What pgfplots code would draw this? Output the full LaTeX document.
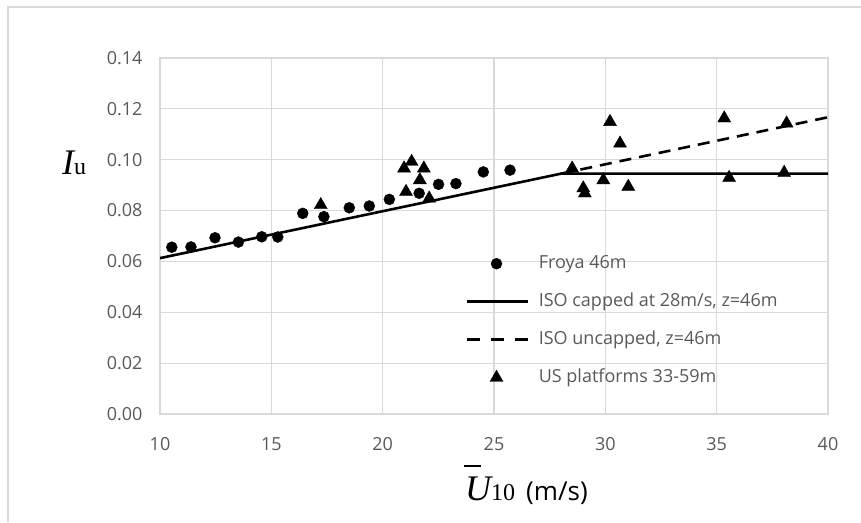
\documentclass[border=0pt]{standalone}
\usepackage{fontspec}
\setmainfont{Open Sans}
\newfontfamily\serif{Liberation Serif}
\usepackage{pgfplots}
\pgfplotsset{compat=1.18}
\definecolor{gridgray}{HTML}{D9D9D9}
\definecolor{tickgray}{HTML}{595959}

\begin{document}
\begin{tikzpicture}
% chart area frame (only top and left edges are visible in the crop)
\useasboundingbox (-160pt,-108pt) rectangle (701pt,414pt);
\draw[gridgray, line width=1.2pt] (-152pt,-108pt) -- (-152pt,407pt) -- (701pt,407pt);
\begin{axis}[
    at={(0,0)}, anchor=south west,
    scale only axis,
    width=668pt, height=356pt,
    xmin=10, xmax=40, ymin=0, ymax=0.14,
    xtick={10,15,20,25,30,35,40},
    ytick={0,0.02,0.04,0.06,0.08,0.10,0.12,0.14},
    major tick length=0pt,
    grid=major,
    major grid style={draw=gridgray, line width=1.2pt},
    axis line style={draw=gridgray, line width=1.2pt},
    /pgf/number format/assume math mode=true,
    ticklabel style={font=\fontsize{18}{18}\selectfont, text=tickgray},
    yticklabel style={/pgf/number format/fixed, /pgf/number format/fixed zerofill, /pgf/number format/precision=2, xshift=-14pt},
    xticklabel style={yshift=-20pt},
    scaled y ticks=false,
    legend image code/.code={\draw[mark repeat=2,mark phase=2,#1] plot coordinates {(0pt,0pt) (30pt,0pt) (61pt,0pt)};},
    legend style={draw=none, fill=none, at={(axis description cs:0.4566,0.262)}, anchor=west,
        font=\fontsize{18}{18}\selectfont, text=tickgray, row sep=16pt, column sep=8pt, inner sep=0pt,
        nodes={text height=13.5pt, text depth=4.5pt}},
    legend cell align=left,
]
% Froya 46m
\addplot[only marks, mark=*, mark size=5.5pt, black] coordinates {
(10.53,0.0656) (11.39,0.0657) (12.47,0.0693) (13.52,0.0676) (14.57,0.0697) (15.29,0.0696)
(16.41,0.0789) (17.36,0.0776) (18.50,0.0811) (19.40,0.0818) (20.30,0.0844) (21.64,0.0868)
(22.51,0.0903) (23.29,0.0906) (24.52,0.0952) (25.72,0.0959)};
\addlegendentry{Froya 46m}
% ISO capped
\addplot[black, line width=2.6pt, mark=none,
    legend image code/.code={\draw[black, line width=2.6pt] (0pt,0pt) -- (61pt,0pt);}]
    coordinates {(10,0.0613) (28,0.0945) (40,0.0945)};
\addlegendentry{ISO capped at 28m/s, z=46m}
% ISO uncapped
\addplot[black, line width=2.6pt, mark=none, dash pattern=on 12pt off 8pt,
    legend image code/.code={\draw[black, line width=2.6pt, dash pattern=on 13pt off 11pt] (0pt,0pt) -- (61pt,0pt);}]
    coordinates {(28,0.0945) (40,0.1167)};
\addlegendentry{ISO uncapped, z=46m}
% US platforms
\addplot[only marks, mark=triangle*, mark size=7.5pt, black] coordinates {
(17.22,0.0822) (21.30,0.0992) (20.96,0.0966) (21.85,0.0966) (21.67,0.0920) (21.05,0.0874)
(22.09,0.0848) (28.51,0.0966) (29.01,0.0888) (29.08,0.0868) (29.91,0.0920) (30.21,0.1149)
(30.66,0.1064) (31.03,0.0894) (35.34,0.1163) (35.56,0.0929) (38.03,0.0949) (38.14,0.1143)};
\addlegendentry{US platforms 33-59m}
\end{axis}
% axis titles
\node[anchor=base west, inner sep=0pt] at (-98pt,239pt)
    {{\serif\itshape\fontsize{36}{36}\selectfont I}{\serif\fontsize{24}{24}\selectfont u}};
\node[anchor=base west, inner sep=0pt] at (305pt,-86pt)
    {\rlap{\kern-1pt\raisebox{33pt}{\rule{17pt}{1.8pt}}}{\serif\itshape\fontsize{36}{36}\selectfont U}{\serif\fontsize{24}{24}\selectfont 10}\hspace{11pt}{\fontsize{26}{26}\selectfont (m/s)}};
\end{tikzpicture}
\end{document}
